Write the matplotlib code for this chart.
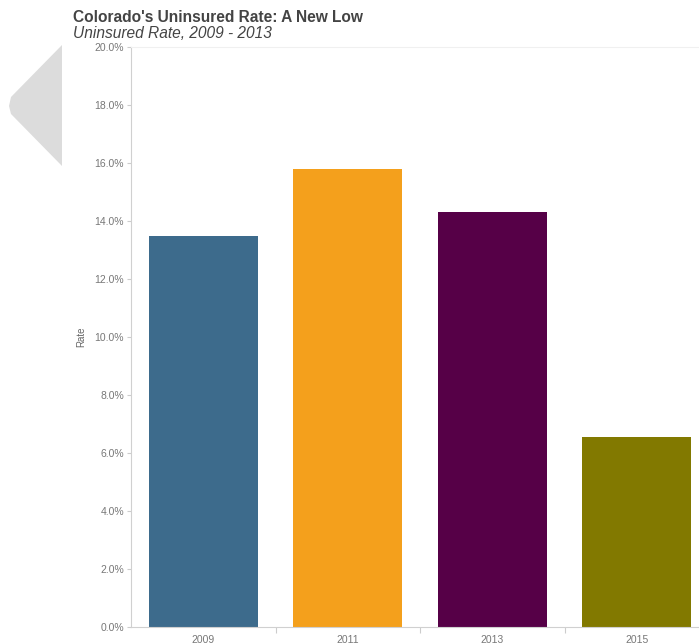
import matplotlib
matplotlib.use("Agg")
import matplotlib.pyplot as plt
from matplotlib.patches import Polygon
from matplotlib.ticker import FuncFormatter, FixedLocator

## 데이터
years = ["2009", "2011", "2013", "2015"]
rates = [13.5, 15.8, 14.3, 6.55]
colors = ["#3d6b8c", "#f4a01c", "#560047", "#827900"]
yticks = [0, 2, 4, 6, 8, 10, 12, 14, 16, 18, 20]

plt.rcParams['font.family'] = ['Liberation Sans', 'DejaVu Sans']

W, H = 699, 644
fig = plt.figure(figsize=(W / 100, H / 100), dpi=100)

# 축 위치 (픽셀 -> 비율), 오른쪽은 그림 밖으로 잘림
left, right, top, bottom = 131, 709, 47, 627
ax = fig.add_axes([left / W, 1 - bottom / H, (right - left) / W, (bottom - top) / H])

x = range(len(years))
ax.bar(x, rates, width=0.755, color=colors, zorder=2)

ax.set_xlim(-0.5, len(years) - 0.5)
ax.set_ylim(0, 20)
ax.set_yticks(yticks)
ax.yaxis.set_major_formatter(FuncFormatter(lambda v, p: f"{v:.1f}%"))
ax.set_xticks(list(x))
ax.set_xticklabels(years)
ax.xaxis.set_minor_locator(FixedLocator([0.5, 1.5, 2.5]))

ax.tick_params(axis='y', labelsize=7.5, labelcolor='#777777', color='#cccccc', length=3, width=0.8, pad=2)
ax.tick_params(axis='x', which='major', length=0, labelsize=7.5, labelcolor='#777777', pad=6)
ax.tick_params(axis='x', which='minor', length=4, color='#cccccc', width=0.8)

ax.spines['right'].set_visible(False)
ax.spines['left'].set_color('#d0d0d0')
ax.spines['bottom'].set_color('#d0d0d0')
ax.spines['top'].set_color('#f0f0f0')

ax.set_ylabel("Rate", fontsize=7, color='#666666', labelpad=6)

# 제목
fig.text(73 / W, 1 - 17 / H, "Colorado's Uninsured Rate: A New Low", fontsize=11.2,
         fontweight='bold', color='#444444', va='center', ha='left')
fig.text(73 / W, 1 - 33 / H, "Uninsured Rate, 2009 - 2013", fontsize=11.2,
         fontstyle='italic', color='#444444', va='center', ha='left')

# 왼쪽 회색 화살표
arrow = [(62 / W, 1 - 45 / H), (11 / W, 1 - 97 / H), (9 / W, 1 - 106 / H),
         (11 / W, 1 - 114 / H), (62 / W, 1 - 166 / H)]
fig.patches.append(Polygon(arrow, closed=True, transform=fig.transFigure,
                           facecolor='#dcdcdc', edgecolor='none', zorder=0))

fig.savefig("out.png", dpi=100)
